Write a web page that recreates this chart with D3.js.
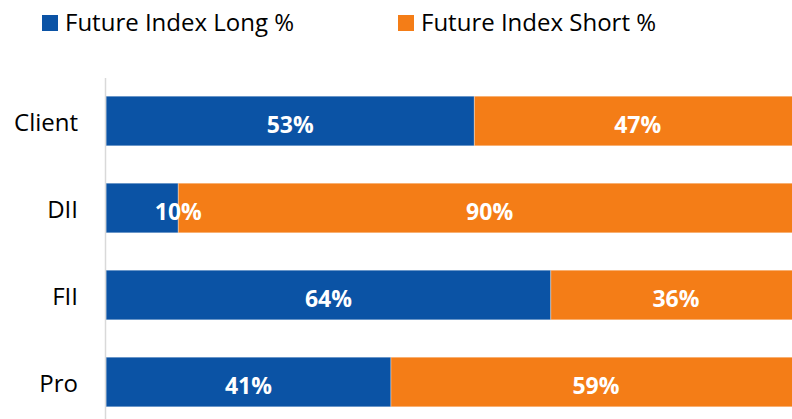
<!DOCTYPE html>
<html>
<head>
<meta charset="utf-8">
<script src="https://cdn.jsdelivr.net/npm/d3@7"></script>
<style>
  body { margin: 0; background: #fff; }
  svg { display: block; font-family: "Open Sans", sans-serif; }
</style>
</head>
<body>
<div id="chart"></div>
<script>
// Data
const categories = ["Client", "DII", "FII", "Pro"];
const longPct = [53, 10.4, 64, 41];
const shortPct = [47, 89.6, 36, 59];
const seriesNames = ["Future Index Long %", "Future Index Short %"];
const colors = ["#0b53a5", "#f47d17"];

const width = 792, height = 419;

const svg = d3.select("#chart")
    .append("svg")
    .attr("width", width)
    .attr("height", height);

// Scales
const xScale = d3.scaleLinear().domain([0, 100]).range([106, 801]);
const yScale = d3.scaleBand()
    .domain(categories)
    .range([77.5, 425.5])
    .paddingInner(0.43)
    .paddingOuter(0.215);

// Stack the two series
const rows = categories.map((c, i) => ({ cat: c, long: longPct[i], short: shortPct[i] }));
const stack = d3.stack().keys(["long", "short"])(rows);

const fmt = v => Math.round(v) + "%";

stack.forEach((layer, si) => {
    const g = svg.append("g");
    g.selectAll("rect")
        .data(layer)
        .join("rect")
        .attr("x", d => xScale(d[0]))
        .attr("y", d => yScale(d.data.cat))
        .attr("width", d => xScale(d[1]) - xScale(d[0]))
        .attr("height", yScale.bandwidth())
        .attr("fill", colors[si])
        .attr("stroke", "#fff")
        .attr("stroke-opacity", 0.35)
        .attr("stroke-width", 1);
});

// Data labels
stack.forEach((layer, si) => {
    svg.append("g").selectAll("text")
        .data(layer)
        .join("text")
        .attr("x", d => {
            const w = xScale(d[1]) - xScale(d[0]);
            // narrow segments get their label pushed to the segment edge
            return w < 80 ? xScale(d[1]) : (xScale(d[0]) + xScale(d[1])) / 2;
        })
        .attr("y", d => yScale(d.data.cat) + yScale.bandwidth() / 2 + 12)
        .attr("text-anchor", "middle")
        .attr("fill", "#fff")
        .style("font-size", "23px")
        .style("font-weight", "bold")
        .text(d => fmt(d[1] - d[0]));
});

// Category axis
const yAxis = svg.append("g")
    .attr("transform", "translate(105,0)")
    .call(d3.axisLeft(yScale).tickSize(0).tickPadding(27));
yAxis.select(".domain").attr("stroke", "#d9d9d9").attr("stroke-width", 1.5);
yAxis.selectAll("text")
    .attr("dy", null)
    .attr("y", 9.5)
    .style("font-family", "'Open Sans', sans-serif")
    .style("font-size", "24px")
    .attr("fill", "#000");

// Legend
const legendX = [42, 398];
seriesNames.forEach((name, i) => {
    svg.append("rect")
        .attr("x", legendX[i])
        .attr("y", 15)
        .attr("width", 16)
        .attr("height", 16)
        .attr("fill", colors[i]);
    svg.append("text")
        .attr("x", legendX[i] + 23)
        .attr("y", 31)
        .style("font-size", "24px")
        .attr("fill", "#000")
        .text(name);
});
</script>
</body>
</html>
